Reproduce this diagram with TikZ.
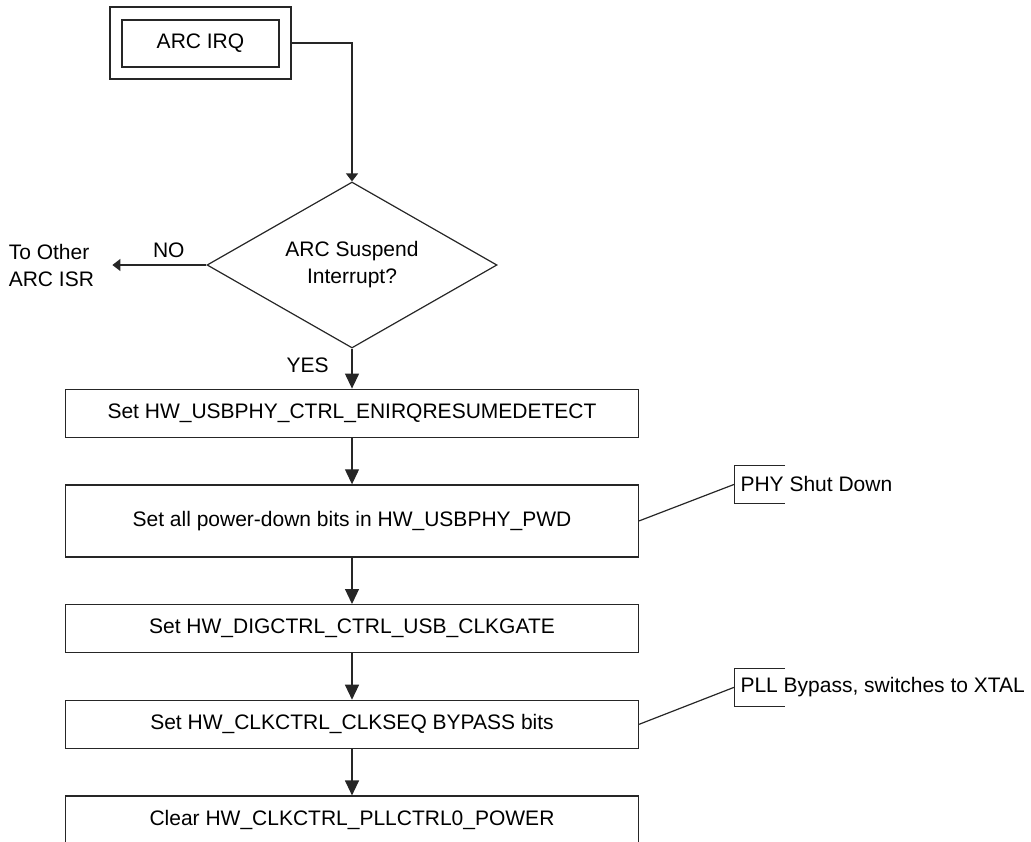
\documentclass[tikz,border=0pt]{standalone}
\usepackage{fontspec}
\setmainfont{Liberation Sans}
\usetikzlibrary{arrows.meta,positioning,shapes.geometric}
\tikzset{
    %Define standard arrow tip
    >={Triangle[length=7.5pt,width=7pt]},
    %Define style for boxes
    process/.style={
           rectangle,
           draw=black!85, line width=0.6pt,
           minimum width=286.5pt,
           minimum height=24pt,
           inner sep=0pt,
           font=\fontsize{10.5}{13.5}\selectfont,
           text centered},
    decision/.style={
           diamond, aspect=1.75,
           draw=black!85, line width=0.6pt,
           minimum width=145pt,
           minimum height=83pt,
           inner sep=0pt,
           align=center,
           font=\fontsize{10.5}{13.5}\selectfont},
    irqbox/.style={
           rectangle,
           draw=black!85, line width=0.6pt,
           minimum width=78.5pt,
           minimum height=23.5pt,
           font=\fontsize{10.5}{13.5}\selectfont},
    irqframe/.style={
           rectangle,
           draw=black!85, line width=0.6pt,
           minimum width=90.5pt,
           minimum height=36pt},
    note/.style={
           inner xsep=3pt, inner ysep=0pt,
           minimum height=18.5pt,
           font=\fontsize{10.5}{13.5}\selectfont},
    sidetext/.style={
           inner xsep=9pt,
           align=left,
           font=\fontsize{10.5}{13.5}\selectfont},
    % Define arrow style
    pil/.style={
           ->,
           line width=0.6pt,
           every edge/.append style={draw=black!85}},
    smallpil/.style={
           -{Triangle[length=4pt,width=6pt]},
           draw=black!85, line width=0.6pt},
    link/.style={draw=black!85, line width=0.6pt}
}

\begin{document}
\begin{tikzpicture}[node distance=23.25pt,
  every node/.style={font=\fontsize{10.5}{13.5}\selectfont}]
\path[use as bounding box, clip] (0,0) rectangle (515.5pt,-420.5pt);
 %nodes
\node[irqbox] (irq) at (100.25pt,-21.75pt) {ARC IRQ};
\node[irqframe] (irqout) at (100.25pt,-21.5pt) {};
\node[decision] (susp) at (176pt,-132.5pt) {ARC Suspend\\Interrupt?};
\node[sidetext, left=47pt of susp.west] (isr) {To Other\\ARC ISR};
\node[process, below=20pt of susp] (enirq) {Set HW\_USBPHY\_CTRL\_ENIRQRESUMEDETECT};
\node[process, below=of enirq, minimum height=36pt] (pwd) {Set all power-down bits in HW\_USBPHY\_PWD};
\node[process, below=of pwd] (clkgate) {Set HW\_DIGCTRL\_CTRL\_USB\_CLKGATE};
\node[process, below=of clkgate] (bypass) {Set HW\_CLKCTRL\_CLKSEQ BYPASS bits};
\node[process, below=of bypass] (pllpwr) {Clear HW\_CLKCTRL\_PLLCTRL0\_POWER};
 %notes
\node[note, right=47.5pt of pwd.east, yshift=18.25pt] (phy) {PHY Shut Down};
\node[note, right=47.5pt of bypass.east, yshift=18.5pt] (pll) {PLL Bypass, switches to XTAL};
\foreach \n in {phy,pll}
  \draw[link] ([xshift=25.5pt]\n.north west) -- (\n.north west) -- (\n.south west) -- ++(25.5pt,0);
\draw[link] (pwd.east) -- (phy.west);
\draw[link] (bypass.east) -- (pll.west);
 %arrows
\draw[smallpil] (irqout.east) -| (susp.north);
\draw[smallpil] (susp.west) -- node[pos=0.4, above] {NO} (isr.east);
\path[pil] (susp.south) edge node[pos=0.42, left=8pt] {YES} (enirq)
    (enirq) edge (pwd)
    (pwd) edge (clkgate)
    (clkgate) edge (bypass)
    (bypass) edge (pllpwr);
\end{tikzpicture}
\end{document}
